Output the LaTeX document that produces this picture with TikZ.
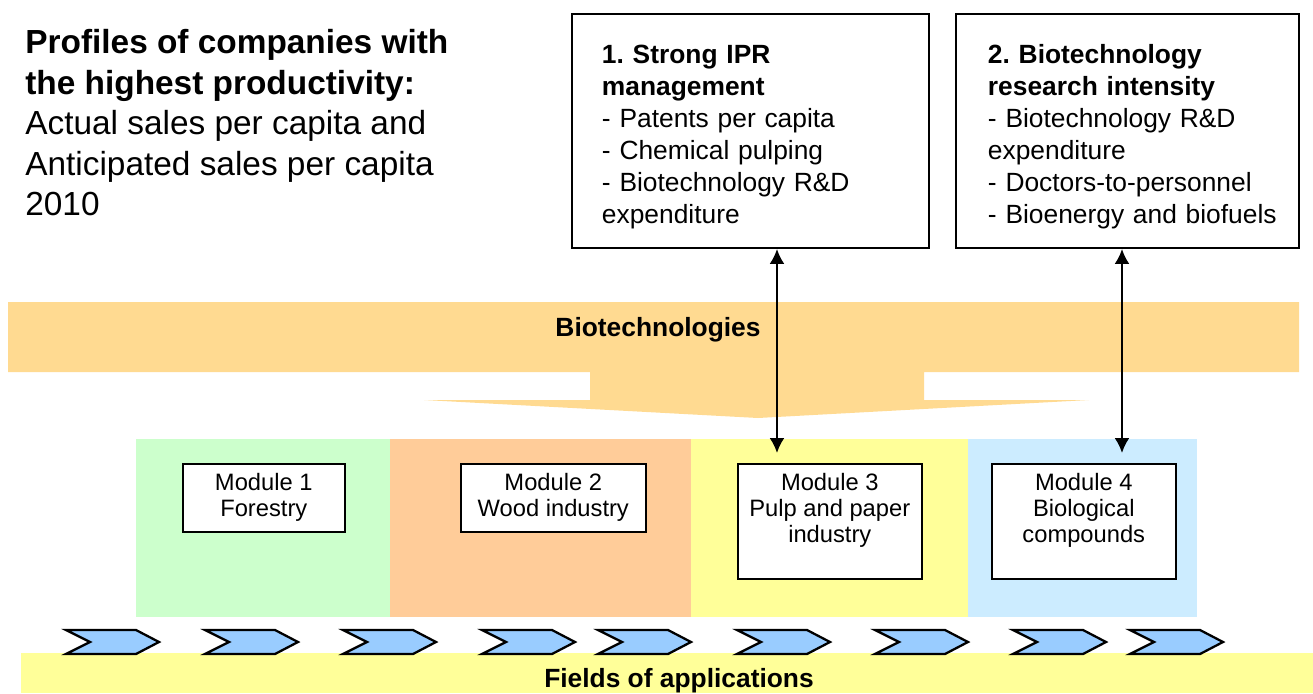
\documentclass[tikz,border=0pt]{standalone}
\usepackage{fontspec}
\setmainfont{Liberation Sans}
\frenchspacing
\usetikzlibrary{shapes,arrows.meta,calc,positioning}
\definecolor{bandorange}{HTML}{FFDA91}
\definecolor{modgreen}{HTML}{CCFFCC}
\definecolor{modorange}{HTML}{FFCC99}
\definecolor{modyellow}{HTML}{FFFF99}
\definecolor{modblue}{HTML}{CCECFF}
\definecolor{chevblue}{HTML}{99CCFF}
\tikzstyle{profbox} = [draw, line width=1.1pt, anchor=north west, align=left, inner ysep=0pt, minimum height=46.8mm, font=\fontsize{15}{18.2}\selectfont]
\tikzstyle{modbox} = [draw, fill=white, line width=0.9pt, anchor=north west, align=center, inner sep=0pt, font=\fontsize{13.5}{14.8}\selectfont]
\tikzstyle{bandtext} = [font=\fontsize{15}{18}\selectfont\bfseries]
\tikzstyle{arrow} = [line width=1.3pt, {Latex[length=3mm,width=3mm]}-{Latex[length=3mm,width=3mm]}]
\tikzstyle{chevron} = [fill=chevblue, draw=black, line width=1.3pt]

\begin{document}
\begin{tikzpicture}[x=0.2mm,y=-0.2mm]
\useasboundingbox (0,0) rectangle (1313,693);

% title
\node[anchor=north west, align=left, inner sep=0pt, font=\fontsize{19}{23.1}\selectfont] (title) at (25,29)
  {\textbf{Profiles of companies with}\\ \textbf{the highest productivity:}\\ Actual sales per capita and\\ Anticipated sales per capita\\ 2010};

% profile boxes
\node[profbox, text width=59.4mm, inner xsep=6mm] (ipr) at (571,13)
  {\rule{0pt}{17pt}\textbf{1. Strong IPR}\\ \textbf{management}\\ - Patents per capita\\ - Chemical pulping\\ - Biotechnology R\&D\\ expenditure};
\node[profbox, text width=55.8mm, inner xsep=6.4mm] (intensity) at (955,13)
  {\rule{0pt}{17pt}\textbf{2. Biotechnology}\\ \textbf{research intensity}\\ - Biotechnology R\&D\\ expenditure\\ - Doctors-to-personnel\\ \mbox{- Bioenergy and biofuels}};

% biotechnologies band with the arrow
\fill[bandorange] (8,302) -- (1299,302) -- (1299,372) -- (924,372) -- (924,400) -- (1089,400)
  -- (758,418) -- (424,400) -- (590,400) -- (590,372) -- (8,372) -- cycle;
\node[bandtext] (biotech) at (658,330) {Biotechnologies};

% modules
\fill[modgreen] (136,439) rectangle (390,617);
\fill[modorange] (390,439) rectangle (691,617);
\fill[modyellow] (691,439) rectangle (968,617);
\fill[modblue] (968,439) rectangle (1197,617);
\node[modbox, minimum width=32.4mm, minimum height=13.6mm] (mod1) at (182,463) {Module 1\\Forestry};
\node[modbox, minimum width=37mm, minimum height=13.6mm] (mod2) at (460,463) {Module 2\\Wood industry};
\node[modbox, minimum width=36.8mm, minimum height=23mm] (mod3) at (737,463) {Module 3\\Pulp and paper\\industry\\~};
\node[modbox, minimum width=36.8mm, minimum height=23mm] (mod4) at (991,463) {Module 4\\Biological\\compounds\\~};

% links
\coordinate (ax1) at (777,0);
\coordinate (ax2) at (1122,0);
\draw[arrow] (ipr.south -| ax1) -- ([yshift=2mm]mod3.north -| ax1);
\draw[arrow] (intensity.south -| ax2) -- ([yshift=2mm]mod4.north -| ax2);

% fields of applications
\fill[modyellow] (21,653) rectangle (1313,693);
\node[bandtext] (fields) at (679,681) {Fields of applications};
\foreach \cx in {66,205,343,482,598,737,875,1013,1130}
  \draw[chevron] (\cx,630) -- ++(70,0) -- ++(23,12) -- ++(-23,12) -- ++(-70,0) -- ++(24,-12) -- cycle;
\end{tikzpicture}
\end{document}
